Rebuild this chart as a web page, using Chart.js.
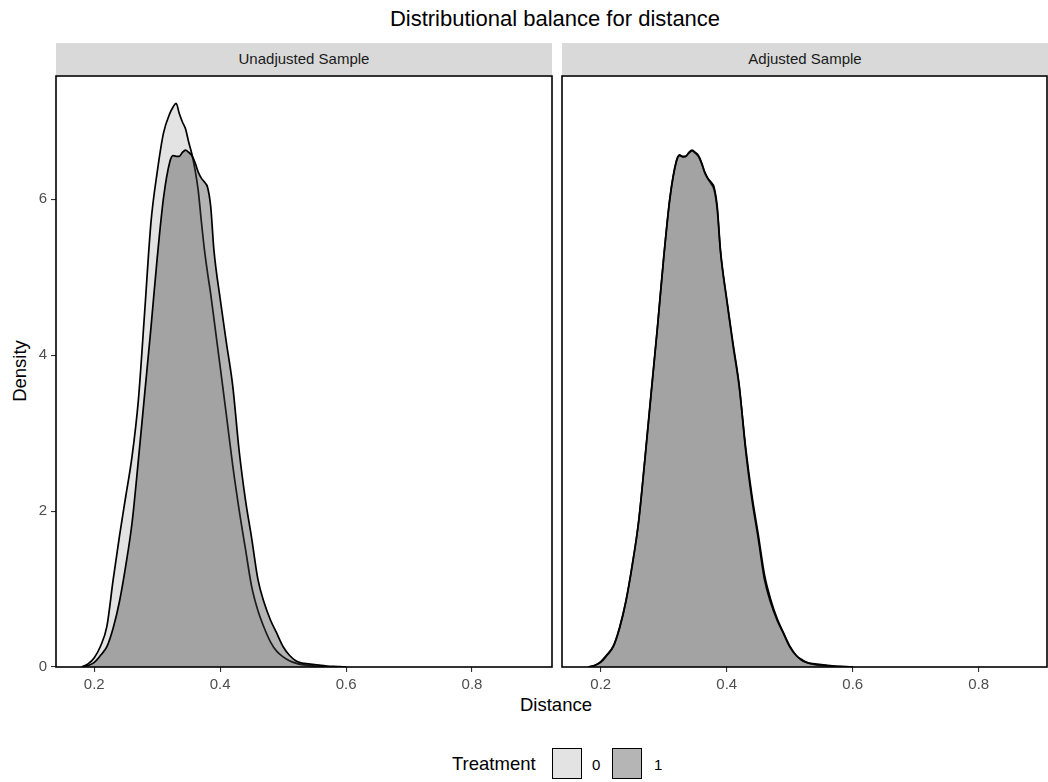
<!DOCTYPE html>
<html>
<head>
<meta charset="utf-8">
<script src="https://cdn.jsdelivr.net/npm/chart.js@4.4.0/dist/chart.umd.min.js"></script>
<style>
html, body { margin:0; padding:0; background:#fff; overflow:hidden; }
body { width:1048px; height:782px; position:relative; font-family:"Liberation Sans", Arial, sans-serif; }
.abs { position:absolute; white-space:nowrap; }
#title { left:555px; top:19px; transform:translate(-50%,-50%); font-size:22px; color:#000; }
.strip { top:43px; height:32px; line-height:32px; background:#d9d9d9; text-align:center; font-size:15px; color:#1a1a1a; }
#ylab { left:20px; top:371px; transform:translate(-50%,-50%) rotate(-90deg); font-size:18.5px; color:#000; }
#xlab { left:556px; top:705px; transform:translate(-50%,-50%); font-size:18.5px; color:#000; }
.box { top:748px; width:30px; height:31px; border:1px solid #000; box-sizing:border-box; }
.leg { top:764px; transform:translateY(-50%); color:#000; }
</style>
</head>
<body>
<div id="title" class="abs">Distributional balance for distance</div>
<div class="abs strip" style="left:56px;width:496px;">Unadjusted Sample</div>
<div class="abs strip" style="left:562px;width:486px;">Adjusted Sample</div>
<div id="ylab" class="abs">Density</div>
<div id="xlab" class="abs">Distance</div>

<div class="abs" style="left:0;top:60px;width:556px;height:660px;"><canvas id="panel1"></canvas></div>
<div class="abs" style="left:556px;top:60px;width:492px;height:660px;"><canvas id="panel2"></canvas></div>

<div class="abs leg" style="left:452px;font-size:18.5px;">Treatment</div>
<div class="abs box" style="left:552px;background:#e3e3e3;"></div>
<div class="abs leg" style="left:592px;font-size:15px;">0</div>
<div class="abs box" style="left:612px;background:#b5b5b5;"></div>
<div class="abs leg" style="left:654px;font-size:15px;">1</div>

<script>
// distance grid (x) and density values
var distance = [0.18,0.19,0.20,0.21,0.22,0.23,0.24,0.25,0.26,0.27,0.28,0.29,0.30,0.31,0.32,0.325,0.33,0.335,0.34,0.345,0.35,0.355,0.36,0.365,0.37,0.375,0.38,0.385,0.39,0.40,0.41,0.42,0.43,0.44,0.45,0.46,0.47,0.48,0.49,0.50,0.51,0.52,0.53,0.54,0.55,0.56,0.57,0.58,0.59,0.60];

var unadjControl = [0,0.04,0.12,0.27,0.52,1.12,1.68,2.19,2.70,3.42,4.55,5.70,6.35,6.85,7.10,7.18,7.23,7.10,6.99,6.90,6.73,6.58,6.38,6.12,5.72,5.35,5.05,4.78,4.47,3.85,3.22,2.58,2.02,1.52,1.03,0.72,0.50,0.32,0.20,0.13,0.08,0.05,0.03,0.02,0.01,0.005,0.002,0,0,0];

var unadjTreated = [0,0.02,0.06,0.15,0.26,0.50,0.84,1.30,1.85,2.65,3.50,4.35,5.25,6.02,6.48,6.56,6.55,6.55,6.60,6.63,6.60,6.56,6.47,6.35,6.27,6.22,6.15,5.90,5.35,4.72,4.15,3.60,2.78,2.15,1.65,1.12,0.82,0.60,0.43,0.26,0.15,0.08,0.05,0.04,0.03,0.02,0.013,0.008,0.004,0];

var adjControl = [0,0.02,0.07,0.16,0.27,0.51,0.85,1.31,1.86,2.66,3.52,4.36,5.26,6.03,6.49,6.57,6.54,6.55,6.59,6.62,6.59,6.55,6.46,6.34,6.26,6.20,6.12,5.86,5.33,4.70,4.12,3.58,2.82,2.20,1.70,1.18,0.86,0.62,0.44,0.27,0.15,0.09,0.05,0.03,0.02,0.015,0.01,0.005,0.002,0];

var adjTreated = unadjTreated;

var xTicks = [0.2, 0.4, 0.6, 0.8];
var yTicks = [0, 2, 4, 6];
var groupLabels = ['0', '1'];
var fillColors = ['rgba(185,185,185,0.4)', 'rgba(68,68,68,0.4)'];

var fontFamily = '"Liberation Sans", Arial, sans-serif';

function pts(ys) {
    return distance.map(function (x, i) { return {x: x, y: ys[i]}; });
}

// black frame round each facet panel
var panelBox = {
    id: 'panelBox',
    afterDraw: function (chart) {
        var a = chart.chartArea, ctx = chart.ctx;
        ctx.save();
        ctx.strokeStyle = '#000';
        ctx.lineWidth = 1.6;
        ctx.strokeRect(a.left, a.top, a.right - a.left, a.bottom - a.top);
        ctx.restore();
    }
};

function makePanel(id, control, treated, xMin, xMax, showY, yWidth, padRight) {
    var ds = function (label, data, color, order) {
        return {
            label: label, data: data, backgroundColor: color, fill: 'origin',
            borderColor: '#000', borderWidth: 1.7, pointRadius: 0,
            cubicInterpolationMode: 'monotone', order: order
        };
    };
    new Chart(document.getElementById(id), {
        type: 'line',
        data: {
            datasets: [
                ds(groupLabels[0], pts(control), fillColors[0], 2),
                ds(groupLabels[1], pts(treated), fillColors[1], 1)
            ]
        },
        options: {
            responsive: true,
            maintainAspectRatio: false,
            animation: false,
            layout: {padding: {top: 16, right: padRight, left: 0, bottom: 0}},
            plugins: {legend: {display: false}, tooltip: {enabled: false}},
            scales: {
                x: {
                    type: 'linear', min: xMin, max: xMax,
                    afterBuildTicks: function (s) { s.ticks = xTicks.map(function (v) { return {value: v}; }); },
                    afterFit: function (s) { s.height = 53; },
                    ticks: {font: {family: fontFamily, size: 15}, color: '#4d4d4d', padding: 4, maxRotation: 0,
                        callback: function (v) { return v.toFixed(1); }},
                    grid: {display: true, drawOnChartArea: false, drawTicks: true, tickLength: 5, color: '#333', lineWidth: 1.1},
                    border: {display: false}
                },
                y: {
                    type: 'linear', min: 0, max: 7.58,
                    afterBuildTicks: function (s) { s.ticks = yTicks.map(function (v) { return {value: v}; }); },
                    afterFit: function (s) { s.width = yWidth; },
                    ticks: {display: showY, font: {family: fontFamily, size: 15}, color: '#4d4d4d', padding: 4,
                        callback: function (v) { return String(v); }},
                    grid: {display: showY, drawOnChartArea: false, drawTicks: true, tickLength: 5, color: '#333', lineWidth: 1.1},
                    border: {display: false}
                }
            }
        },
        plugins: [panelBox]
    });
}

makePanel('panel1', unadjControl, unadjTreated, 0.1392, 0.927, true, 56, 4);
makePanel('panel2', adjControl, adjTreated, 0.1385, 0.9084, false, 6, 1);
</script>
</body>
</html>
